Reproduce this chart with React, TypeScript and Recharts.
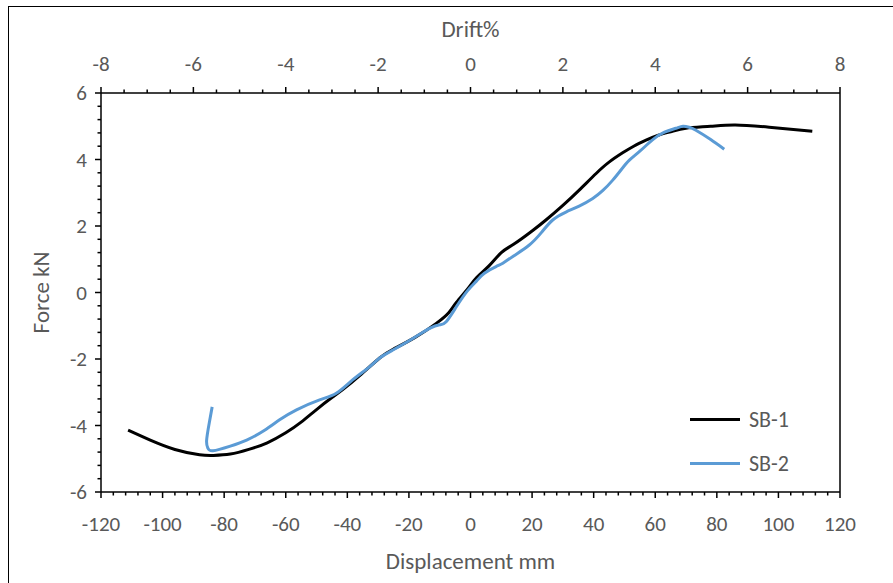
import { LineChart, Line, XAxis, YAxis, ReferenceLine, Legend, Label } from "recharts";

// SB-1 (black) - displacement mm / force kN
const SB1_DISP = [
  -111.2, -104, -96, -88, -83.5, -78, -72, -66, -60, -55, -50, -45, -41.5, -36, -29.5, -25,
  -18, -11, -7, -4.6, -1, 2, 6, 10, 14, 20, 24.5, 30, 35.3, 40.8, 45, 49.4, 53, 57, 61,
  65.6, 70, 78, 86, 97, 111,
];
const SB1_FORCE = [
  -4.14, -4.44, -4.72, -4.88, -4.9, -4.86, -4.72, -4.52, -4.22, -3.9, -3.52, -3.16, -2.92, -2.5,
  -1.97, -1.7, -1.35, -0.92, -0.6, -0.3, 0.1, 0.45, 0.8, 1.2, 1.45, 1.85, 2.18, 2.62, 3.08,
  3.58, 3.92, 4.2, 4.4, 4.58, 4.73, 4.85, 4.94, 5.0, 5.04, 4.97, 4.85,
];

// SB-2 (blue)
const SB2_DISP = [
  -83.9, -84.8, -85.7, -85.3, -83.6, -78, -72.7, -67, -62, -56.5, -49, -43.6, -38.3, -33,
  -29.5, -25.2, -19, -13.3, -10, -7.9, -4.6, -1, 2, 4.5, 8.3, 10.5, 14, 19, 23, 26.7, 31,
  35.3, 39.7, 43, 46.2, 49, 51.6, 55, 59.1, 63, 66.7, 69, 71, 73.2, 78, 82.4,
];
const SB2_FORCE = [
  -3.44, -3.9, -4.45, -4.68, -4.76, -4.62, -4.44, -4.15, -3.83, -3.53, -3.23, -3.03, -2.63,
  -2.25, -1.97, -1.73, -1.4, -1.08, -0.97, -0.88, -0.43, 0.05, 0.35, 0.58, 0.78, 0.88, 1.1,
  1.42, 1.8, 2.18, 2.42, 2.6, 2.83, 3.07, 3.38, 3.7, 3.98, 4.25, 4.59, 4.82, 4.94, 5.0, 4.97,
  4.88, 4.6, 4.31,
];

const DISP_MAJOR = [-120, -100, -80, -60, -40, -20, 0, 20, 40, 60, 80, 100, 120];
const DRIFT_MAJOR = [-8, -6, -4, -2, 0, 2, 4, 6, 8];
const FORCE_MAJOR = [-6, -4, -2, 0, 2, 4, 6];

const FONT = "Carlito, Calibri, Lato, sans-serif";
const TEXT = "#595959";

// majors plus evenly spaced minor ticks between them
function withMinor(majors: number[], parts: number) {
  const out: number[] = [];
  for (let i = 0; i < majors.length - 1; i++) {
    const step = (majors[i + 1] - majors[i]) / parts;
    for (let k = 0; k < parts; k++) out.push(Math.round((majors[i] + k * step) * 1000) / 1000);
  }
  out.push(majors[majors.length - 1]);
  return out;
}

const sb1 = SB1_DISP.map((d, i) => ({ disp: d, force: SB1_FORCE[i] }));
const sb2 = SB2_DISP.map((d, i) => ({ disp: d, force: SB2_FORCE[i] }));
// empty series so the drift axis on top gets drawn
const driftRows = DRIFT_MAJOR.map((d) => ({ drift: d, force: null }));

function makeTick(side: "top" | "bottom" | "left", majors: number[]) {
  return (props: any) => {
    const { x, y, payload } = props;
    const v = payload.value;
    const major = majors.includes(v);
    const len = major ? 6 : 3.5;
    if (side === "left") {
      return (
        <g>
          <line x1={x} y1={y} x2={x - len} y2={y} stroke="#000" strokeWidth={1.5} />
          {major && (
            <text x={x - 14} y={y} dy="0.35em" textAnchor="end" fill={TEXT} fontSize={21} fontFamily={FONT}>
              {v}
            </text>
          )}
        </g>
      );
    }
    const dir = side === "top" ? -1 : 1;
    return (
      <g>
        <line x1={x} y1={y} x2={x} y2={y + dir * len} stroke="#000" strokeWidth={1.5} />
        {major && (
          <text
            x={x}
            y={side === "top" ? y - 22 : y + 39}
            textAnchor="middle"
            fill={TEXT}
            fontSize={21}
            fontFamily={FONT}
          >
            {v}
          </text>
        )}
      </g>
    );
  };
}

function renderLegend(props: any) {
  const items = (props.payload || []).filter((p: any) => p.value === "SB-1" || p.value === "SB-2");
  return (
    <div>
      {items.map((p: any) => (
        <div key={p.value} style={{ display: "flex", alignItems: "center", height: 44 }}>
          <div style={{ width: 50, height: 3, background: p.color, marginRight: 9 }} />
          <span style={{ color: TEXT, fontSize: 22, fontFamily: FONT }}>{p.value}</span>
        </div>
      ))}
    </div>
  );
}

export default function App() {
  return (
    <div
      style={{
        position: "fixed",
        left: 0,
        top: 0,
        width: 893,
        height: 583,
        overflow: "hidden",
        background: "#fff",
      }}
    >
      <div
        style={{
          position: "absolute",
          left: 8,
          top: 6,
          width: 900,
          height: 600,
          borderLeft: "1.5px solid #000",
          borderTop: "1.5px solid #000",
        }}
      />
      <div style={{ position: "absolute", left: 0, top: 0 }}>
        <LineChart width={893} height={583} margin={{ top: 8, right: 53, bottom: 8, left: 26 }}>
          <XAxis
            dataKey="disp"
            type="number"
            domain={[-120, 120]}
            ticks={withMinor(DISP_MAJOR, 5)}
            interval={0}
            allowDataOverflow
            height={83}
            tickSize={0}
            tickMargin={0}
            tickLine={false}
            tick={makeTick("bottom", DISP_MAJOR)}
            axisLine={{ stroke: "#000", strokeWidth: 1.5 }}
          >
            <Label
              content={({ viewBox }: any) => (
                <text
                  x={viewBox.x + viewBox.width / 2}
                  y={viewBox.y + 77}
                  textAnchor="middle"
                  fill={TEXT}
                  fontSize={23}
                  fontFamily={FONT}
                >
                  Displacement mm
                </text>
              )}
            />
          </XAxis>
          <XAxis
            xAxisId="drift"
            dataKey="drift"
            orientation="top"
            type="number"
            domain={[-8, 8]}
            ticks={withMinor(DRIFT_MAJOR, 4)}
            interval={0}
            allowDataOverflow
            height={85}
            tickSize={0}
            tickMargin={0}
            tickLine={false}
            tick={makeTick("top", DRIFT_MAJOR)}
            axisLine={{ stroke: "#000", strokeWidth: 1.5 }}
          >
            <Label
              content={({ viewBox }: any) => (
                <text
                  x={viewBox.x + viewBox.width / 2}
                  y={viewBox.y + 29}
                  textAnchor="middle"
                  fill={TEXT}
                  fontSize={23}
                  fontFamily={FONT}
                >
                  Drift%
                </text>
              )}
            />
          </XAxis>
          <YAxis
            type="number"
            domain={[-6, 6]}
            ticks={withMinor(FORCE_MAJOR, 5)}
            interval={0}
            allowDataOverflow
            width={75}
            tickSize={0}
            tickMargin={0}
            tickLine={false}
            tick={makeTick("left", FORCE_MAJOR)}
            axisLine={{ stroke: "#000", strokeWidth: 1.5 }}
          >
            <Label
              content={({ viewBox }: any) => {
                const cx = viewBox.x + 15;
                const cy = viewBox.y + viewBox.height / 2;
                return (
                  <text
                    x={cx}
                    y={cy}
                    transform={`rotate(-90 ${cx} ${cy})`}
                    textAnchor="middle"
                    dominantBaseline="central"
                    fill={TEXT}
                    fontSize={23}
                    fontFamily={FONT}
                  >
                    Force kN
                  </text>
                );
              }}
            />
          </YAxis>
          <ReferenceLine x={120} stroke="#000" strokeWidth={1.5} ifOverflow="visible" />
          <Legend
            layout="vertical"
            align="center"
            verticalAlign="middle"
            wrapperStyle={{ left: 690, top: 397, width: 140 }}
            content={renderLegend}
          />
          <Line
            xAxisId="drift"
            data={driftRows}
            dataKey="force"
            stroke="none"
            dot={false}
            legendType="none"
            isAnimationActive={false}
          />
          <Line
            name="SB-1"
            data={sb1}
            dataKey="force"
            type="natural"
            stroke="#000000"
            strokeWidth={3}
            dot={false}
            isAnimationActive={false}
          />
          <Line
            name="SB-2"
            data={sb2}
            dataKey="force"
            type="natural"
            stroke="#5B9BD5"
            strokeWidth={3}
            dot={false}
            isAnimationActive={false}
          />
        </LineChart>
      </div>
    </div>
  );
}
